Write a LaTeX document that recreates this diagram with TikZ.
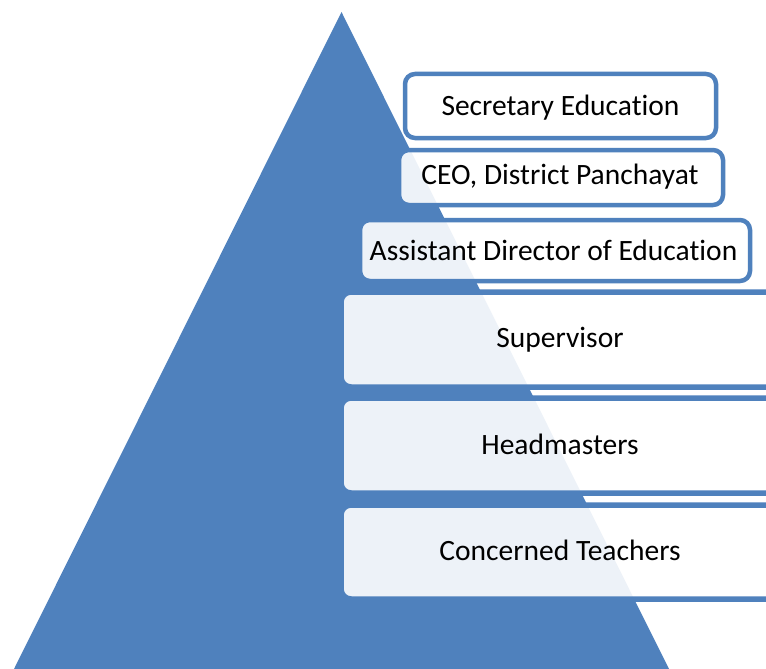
\documentclass[tikz,border=0pt]{standalone}
\usepackage{fontspec}
\setmainfont{Carlito}[Ligatures=NoCommon]
\definecolor{pyr}{HTML}{4F81BD}
\tikzset{
  box/.style={draw=pyr, line width=4.5pt, fill=white, fill opacity=0.9, draw opacity=1, rounded corners=10pt},
  widebox/.style={box, line width=5.5pt},
  lbl/.style={anchor=base, font=\fontsize{29.5}{34}\selectfont, text=black, inner sep=0pt}
}
\begin{document}
\begin{tikzpicture}[x=1pt,y=-1pt]
\fill[white] (0,0) rectangle (766,669);
\useasboundingbox (0,0) rectangle (766,669);
\clip (0,0) rectangle (766,669);
\fill[pyr] (341.5,12) -- (669,669) -- (14,669) -- cycle;
\draw[box] (405,74) rectangle (716,138);
\draw[box] (399,150) rectangle (723,205);
\draw[box] (360,220) rectangle (750,281);
\draw[widebox] (341,292) rectangle (830,387);
\draw[widebox] (341,398) rectangle (830,493);
\draw[widebox] (341,505) rectangle (830,599);
\node[lbl] (sec) at (560.5,115) {Secretary Education};
\node[lbl] (ceo) at (560,184) {CEO, District Panchayat};
\node[lbl] (ade) at (553.5,260) {Assistant Director of Education};
\node[lbl] (sup) at (560,347) {Supervisor};
\node[lbl] (hm) at (560,454) {Headmasters};
\node[lbl] (ct) at (560,560) {Concerned Teachers};
\end{tikzpicture}
\end{document}
